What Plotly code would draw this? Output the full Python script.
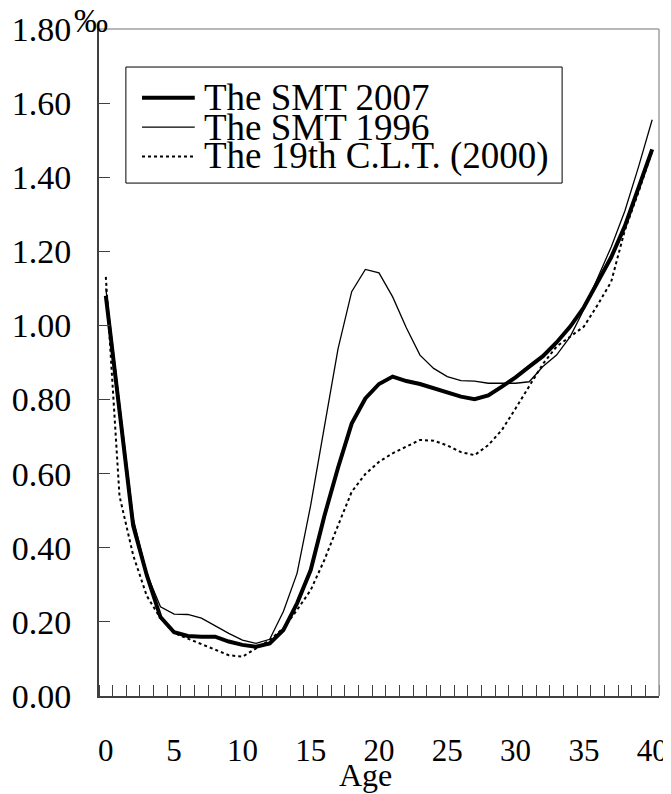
import plotly.graph_objects as go

ages = list(range(0, 41))

smt_2007 = [1.08, 0.76, 0.46, 0.326, 0.213, 0.172, 0.162, 0.160, 0.160, 0.147, 0.138, 0.133, 0.142, 0.178,
            0.25, 0.34, 0.486, 0.616, 0.735, 0.803, 0.842, 0.862, 0.850, 0.842, 0.830, 0.818, 0.808,
            0.801, 0.811, 0.835, 0.860, 0.889, 0.917, 0.954, 0.997, 1.049, 1.114, 1.184, 1.268, 1.370, 1.475]

smt_1996 = [1.10, 0.79, 0.48, 0.33, 0.241, 0.221, 0.220, 0.210, 0.189, 0.169, 0.151, 0.142, 0.153, 0.228,
            0.331, 0.515, 0.726, 0.937, 1.091, 1.151, 1.142, 1.077, 0.994, 0.920, 0.884, 0.862, 0.851,
            0.850, 0.844, 0.843, 0.844, 0.848, 0.889, 0.920, 0.970, 1.043, 1.127, 1.212, 1.309, 1.428, 1.555]

clt_2000 = [1.131, 0.54, 0.38, 0.27, 0.21, 0.17, 0.155, 0.14, 0.124, 0.11, 0.106, 0.129, 0.151, 0.183,
            0.232, 0.286, 0.367, 0.46, 0.551, 0.599, 0.632, 0.655, 0.673, 0.691, 0.689, 0.676, 0.658,
            0.650, 0.677, 0.718, 0.776, 0.835, 0.896, 0.943, 0.971, 0.997, 1.055, 1.118, 1.257, 1.36, 1.47]

series_names = ["The SMT 2007", "The SMT 1996", "The 19th C.L.T. (2000)"]
y_tickvals = [0.0, 0.2, 0.4, 0.6, 0.8, 1.0, 1.2, 1.4, 1.6, 1.8]
x_label_vals = [0, 5, 10, 15, 20, 25, 30, 35, 40]
x_minor_vals = [a - 0.5 for a in ages] + [40.5]

FONT = "Liberation Serif, Times New Roman, serif"

fig = go.Figure()
styles = [
    dict(color="black", width=4),
    dict(color="black", width=1.3),
    dict(color="black", width=2, dash="dot"),
]
for name, vals, st in zip(series_names, [smt_2007, smt_1996, clt_2000], styles):
    fig.add_trace(go.Scatter(x=ages, y=vals, mode="lines", name=name, line=st, showlegend=False))

# the page adds an 8px body margin, so the figure is sized to fit inside the window
fig.update_layout(
    width=663, height=786,
    margin=dict(l=91, r=12, t=21, b=98, autoexpand=False),
    paper_bgcolor="white", plot_bgcolor="white",
    font=dict(family=FONT, color="black"),
    showlegend=False,
)
fig.update_xaxes(
    range=[-0.5, 40.5], showgrid=False, zeroline=False, automargin=False,
    showline=True, linecolor="#404040", linewidth=2,
    tickvals=x_label_vals, ticktext=[str(v) for v in x_label_vals],
    ticks="", tickfont=dict(family=FONT, size=31, color="black"),
    ticklabelstandoff=26,
    minor=dict(tickvals=x_minor_vals, ticks="inside", ticklen=11, tickcolor="#404040", tickwidth=1, showgrid=False),
)
fig.update_yaxes(
    range=[0, 1.8], showgrid=False, zeroline=False, automargin=False,
    showline=True, linecolor="#404040", linewidth=2,
    tickvals=y_tickvals, ticktext=[f"{v:.2f}" for v in y_tickvals],
    ticks="inside", ticklen=11, tickcolor="#404040", tickwidth=1,
    tickfont=dict(family=FONT, size=34, color="black"),
    ticklabelstandoff=19,
)

# plot-area border (top and right)
fig.add_shape(type="line", xref="paper", yref="paper", x0=0, x1=1, y0=1, y1=1,
              line=dict(color="#a0a0a0", width=1.5))
fig.add_shape(type="line", xref="paper", yref="paper", x0=1, x1=1, y0=0, y1=1,
              line=dict(color="#a0a0a0", width=1.5))

# legend (drawn manually for tight spacing)
fig.add_shape(type="rect", xref="paper", yref="paper", x0=0.048, x1=0.827, y0=0.769, y1=0.943,
              line=dict(color="black", width=1), fillcolor="white", layer="below")
leg_y = [0.897, 0.853, 0.809]
for name, yy, st in zip(series_names, leg_y, styles):
    fig.add_shape(type="line", xref="paper", yref="paper", x0=0.0768, x1=0.171, y0=yy, y1=yy,
                  line=st)
    fig.add_annotation(xref="paper", yref="paper", x=0.184, y=yy, text=name, showarrow=False,
                       xanchor="left", yanchor="middle", font=dict(family=FONT, size=37, color="black"))

# unit
fig.add_annotation(xref="paper", yref="paper", x=-0.014, y=1.013, text="‰", showarrow=False,
                   xanchor="center", yanchor="middle", font=dict(family=FONT, size=34, color="black"))
# axis title
fig.add_annotation(xref="paper", yref="paper", x=0.475, y=-0.118, text="Age", showarrow=False,
                   xanchor="center", yanchor="middle", font=dict(family=FONT, size=32, color="black"))

fig.write_html("out.html")
